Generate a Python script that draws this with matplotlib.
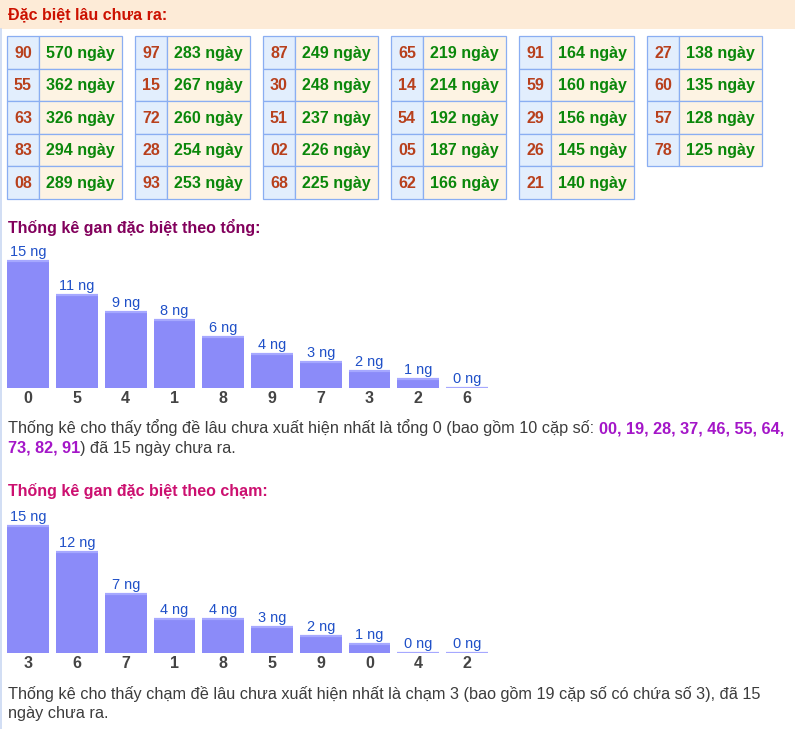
import matplotlib
matplotlib.use('Agg')
import matplotlib.pyplot as plt
from matplotlib.patches import Rectangle

plt.rcParams['font.family'] = ['Liberation Sans', 'DejaVu Sans']

W, H = 795, 729
PT = 0.72  # px -> pt at dpi 100

# ---------------- data ----------------
gan_numbers = [
    ["90", "55", "63", "83", "08"],
    ["97", "15", "72", "28", "93"],
    ["87", "30", "51", "02", "68"],
    ["65", "14", "54", "05", "62"],
    ["91", "59", "29", "26", "21"],
    ["27", "60", "57", "78"],
]
gan_days = [
    [570, 362, 326, 294, 289],
    [283, 267, 260, 254, 253],
    [249, 248, 237, 226, 225],
    [219, 214, 192, 187, 166],
    [164, 160, 156, 145, 140],
    [138, 135, 128, 125],
]

tong_cats = ["0", "5", "4", "1", "8", "9", "7", "3", "2", "6"]
tong_vals = [15, 11, 9, 8, 6, 4, 3, 2, 1, 0]
cham_cats = ["3", "6", "7", "1", "8", "5", "9", "0", "4", "2"]
cham_vals = [15, 12, 7, 4, 4, 3, 2, 1, 0, 0]

title_main = "Đặc biệt lâu chưa ra:"
title_tong = "Thống kê gan đặc biệt theo tổng:"
title_cham = "Thống kê gan đặc biệt theo chạm:"

# ---------------- figure ----------------
fig = plt.figure(figsize=(W / 100, H / 100), dpi=100)
fig.patch.set_facecolor('white')
bg = fig.add_axes([0, 0, 1, 1])
bg.set_xlim(0, W)
bg.set_ylim(H, 0)
bg.axis('off')

renderer = fig.canvas.get_renderer()

# header band
bg.add_patch(Rectangle((0, 0), W, 29, facecolor='#fdebd7', edgecolor='none'))
bg.text(7.5, 19.5, title_main, color='#cc1100', fontsize=16 * PT,
        fontweight='bold', va='baseline')
# left border line
bg.plot([0.6, 0.6], [29, H], color='#c9d8f2', lw=1.2)

# tables
TX0, TPITCH, NUMW, VALW = 7, 128, 32, 83
TY0, ROWH = 36.3, 32.5
for t, (nums, days) in enumerate(zip(gan_numbers, gan_days)):
    x0 = TX0 + TPITCH * t
    for r, (n, d) in enumerate(zip(nums, days)):
        y0 = TY0 + ROWH * r
        bg.add_patch(Rectangle((x0, y0), NUMW, ROWH, facecolor='#e2eefd',
                               edgecolor='#8aaef2', lw=0.9))
        bg.add_patch(Rectangle((x0 + NUMW, y0), VALW, ROWH, facecolor='#fdf3e3',
                               edgecolor='#8aaef2', lw=0.9))
        bg.text(x0 + NUMW / 2, y0 + 21.4, n, color='#b8401c', fontsize=16 * PT,
                fontweight='bold', ha='center', va='baseline')
        bg.text(x0 + NUMW + VALW / 2, y0 + 21.4, f"{d} ngày", color='#0a870a',
                fontsize=16 * PT, fontweight='bold', ha='center', va='baseline')

# section titles
bg.text(8, 233, title_tong, color='#82005c', fontsize=16 * PT,
        fontweight='bold', va='baseline')
bg.text(8, 496, title_cham, color='#cc1070', fontsize=16 * PT,
        fontweight='bold', va='baseline')


def bar_chart(bottom_px, cats, vals):
    pitch = 48.75
    left = 28.2 - 0.5 * pitch
    ppu = 8.42
    ymax = 18
    ax = fig.add_axes([left / W, (H - bottom_px) / H, 10 * pitch / W, ymax * ppu / H])
    ax.set_xlim(-0.5, 9.5)
    ax.set_ylim(0, ymax)
    ax.axis('off')
    xs = list(range(len(vals)))
    w = 0.855
    ax.bar(xs, vals, width=w, color='#8b8bf9', edgecolor='none')
    ax.hlines(vals, [x - w / 2 for x in xs], [x + w / 2 for x in xs],
              color='#a6a8ff', lw=1.6)
    for x, v, c in zip(xs, vals, cats):
        ax.annotate(f"{v} ng", (x, v), xytext=(0, 5 * PT), textcoords='offset points',
                    ha='center', va='baseline', color='#1f50c8', fontsize=14.5 * PT)
        ax.annotate(c, (x, 0), xytext=(0, -15.5 * PT), textcoords='offset points',
                    ha='center', va='baseline', color='#444444', fontsize=16 * PT,
                    fontweight='bold')
    return ax


bar_chart(387.7, tong_cats, tong_vals)
bar_chart(652.7, cham_cats, cham_vals)

# paragraph text with colored runs
PFS = 16.2 * PT
GRAY = '#3c3c3c'
PURPLE = '#a416c8'


def text_width(s, weight):
    t = bg.text(0, 0, s, fontsize=PFS, fontweight=weight)
    wd = t.get_window_extent(renderer=renderer).width
    t.remove()
    return wd


def runs(x, y, parts):
    for s, color, weight, space_after in parts:
        t = bg.text(x, y, s, color=color, fontsize=PFS, fontweight=weight, va='baseline')
        x += t.get_window_extent(renderer=renderer).width
        if space_after:
            x += text_width("x x", weight) - text_width("xx", weight)


runs(8, 433, [
    ("Thống kê cho thấy tổng đề lâu chưa xuất hiện nhất là tổng 0 (bao gồm 10 cặp số:",
     GRAY, 'normal', True),
    ("00, 19, 28, 37, 46, 55, 64,", PURPLE, 'bold', False),
])
runs(8, 452.5, [
    ("73, 82, 91", PURPLE, 'bold', False),
    (") đã 15 ngày chưa ra.", GRAY, 'normal', False),
])
runs(8, 699, [
    ("Thống kê cho thấy chạm đề lâu chưa xuất hiện nhất là chạm 3 (bao gồm 19 cặp số có chứa số 3), đã 15",
     GRAY, 'normal', False),
])
runs(8, 718, [
    ("ngày chưa ra.", GRAY, 'normal', False),
])

fig.savefig('out.png', dpi=100, facecolor='white')
